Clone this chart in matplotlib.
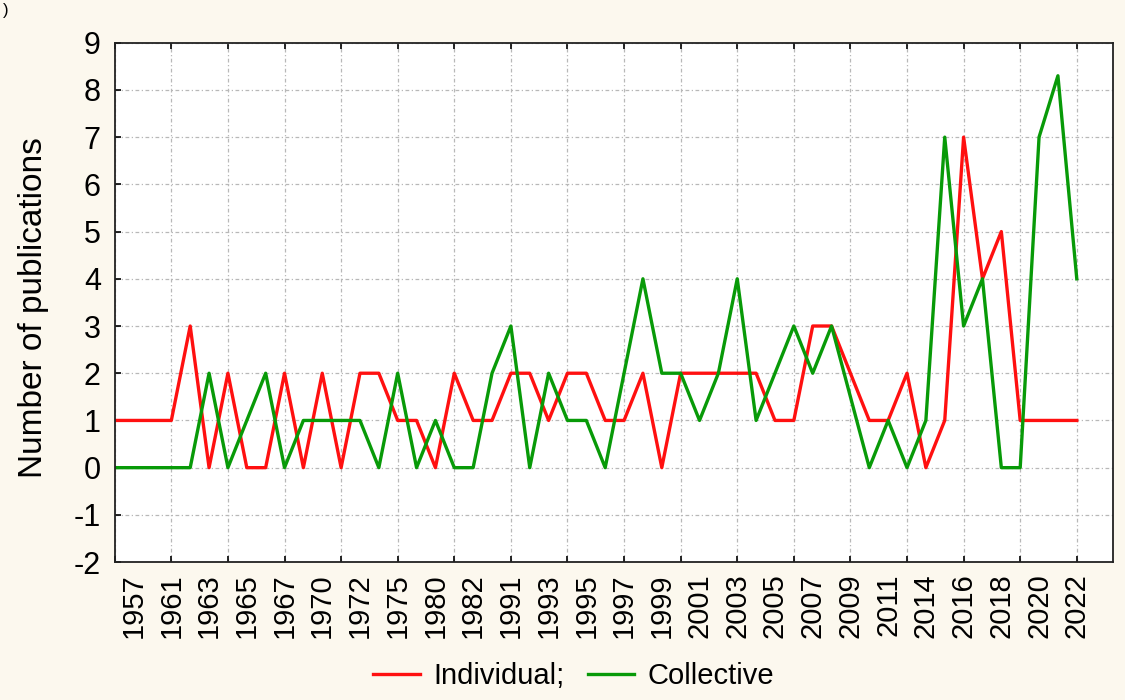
import matplotlib.pyplot as plt
import numpy as np

plt.rcParams['font.family'] = ['Liberation Sans', 'DejaVu Sans']

# year labels shown under every second point
year_labels = ['1957', '1961', '1963', '1965', '1967', '1970', '1972', '1975',
               '1980', '1982', '1991', '1993', '1995', '1997', '1999', '2001',
               '2003', '2005', '2007', '2009', '2011', '2014', '2016', '2018',
               '2020', '2022']

individual = [1, 1, 1, 1, 3, 0, 2, 0, 0, 2, 0, 2, 0, 2, 2, 1, 1, 0, 2, 1,
              1, 2, 2, 1, 2, 2, 1, 1, 2, 0, 2, 2, 2, 2, 2, 1, 1, 3, 3, 2,
              1, 1, 2, 0, 1, 7, 4, 5, 1, 1, 1, 1]

collective = [0, 0, 0, 0, 0, 2, 0, 1, 2, 0, 1, 1, 1, 1, 0, 2, 0, 1, 0, 0,
              2, 3, 0, 2, 1, 1, 0, 2, 4, 2, 2, 1, 2, 4, 1, 2, 3, 2, 3, 1.5,
              0, 1, 0, 1, 7, 3, 4, 0, 0, 7, 8.3, 4]

x = np.arange(len(individual))

fig = plt.figure(figsize=(11.25, 7), dpi=100)
fig.patch.set_facecolor('#fcf8ee')
ax = fig.add_axes([0.102, 0.197, 0.887, 0.742])
ax.set_facecolor('white')

ax.plot(x, individual, color='#ff1010', lw=2.4, label='Individual;')
ax.plot(x, collective, color='#089a08', lw=2.4, label='Collective')

ax.set_xlim(0, 52.9)
ax.set_ylim(-2, 9)
ax.set_yticks(range(-2, 10))
ax.set_yticklabels([str(v) for v in range(-2, 10)])

# grid / tick marks every 3 points, labels every 2 points
ax.xaxis.remove_overlapping_locs = False
ax.set_xticks(np.arange(0, 52, 3))
ax.set_xticklabels([])
ax.set_xticks(np.arange(1, 52, 2), minor=True)
ax.set_xticklabels(year_labels, minor=True, rotation=90, fontsize=21)
ax.tick_params(axis='x', which='minor', length=0, pad=8)
ax.tick_params(axis='x', which='major', direction='in', length=4,
               top=True, bottom=True, width=1.2)
ax.tick_params(axis='y', direction='in', length=4, labelsize=22, width=1.2, pad=10)

ax.grid(True, which='major', color='#b8b8b8', linestyle=(0, (3, 2, 1, 2)), lw=0.9)
for s in ax.spines.values():
    s.set_linewidth(1.3)
    s.set_color('#222222')

ax.set_ylabel('Number of publications', fontsize=24)
ax.yaxis.set_label_coords(-0.066, 0.49)

fig.legend(loc='center', bbox_to_anchor=(0.51, 0.034), ncol=2, frameon=False,
           fontsize=21, handlelength=1.6, columnspacing=0.8, handletextpad=0.45)

fig.text(0.003, 0.985, ')', fontsize=12, va='center')

fig.savefig('out.png', facecolor=fig.get_facecolor())
